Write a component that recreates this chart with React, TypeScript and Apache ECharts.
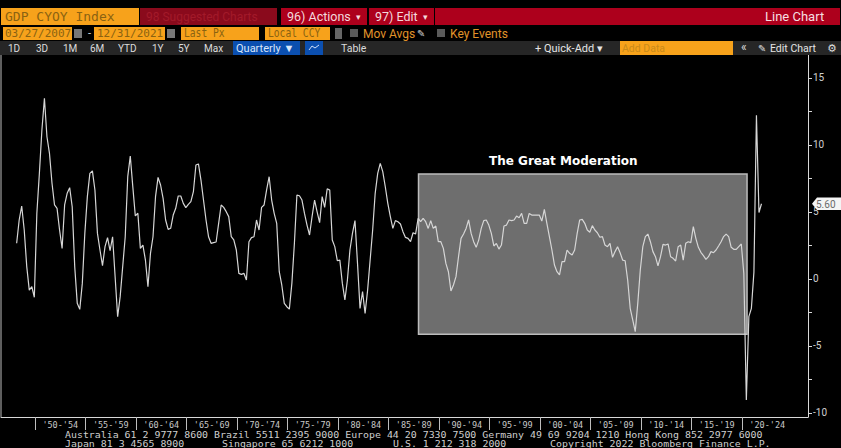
import React, { useEffect, useRef } from "react";
import * as echarts from "echarts";

// Quarterly GDP YoY %, Q1 1948 onward
const gdpYoY: number[] = [
  2.65, 4.39, 5.43, 3.64, 0.91, -0.84, -0.59, -1.38, 4.89, 7.87, 11.1, 13.47, 10.6, 9.36, 7.13, 5.51, 5.26, 3.64, 2.27, 5.51,
  6.38, 6.8, 5.38, 0.91, -1.83, -2.28, -0.34, 3.39, 6.13, 7.87, 8.05, 6.63, 3.39, 2.15, 0.98, 2.4, 3.07, 2.1, 3.14, 0.16,
  -2.83, -1.33, 0.91, 3.14, 7.62, 9.16, 6.88, 4.69, 4.89, 2.27, 2.52, 1.4, -0.59, 1.9, 3.14, 6.13, 7.57, 7.0, 6.0, 4.39,
  3.69, 3.77, 4.76, 5.26, 6.18, 6.18, 5.63, 5.31, 5.56, 5.76, 6.5, 8.49, 8.57, 7.37, 5.88, 4.39, 3.14, 2.65, 2.7, 2.75,
  4.14, 5.51, 5.33, 5.01, 4.64, 3.14, 2.9, 2.15, 0.41, 0.33, 0.41, -0.09, 2.77, 3.07, 3.14, 4.39, 3.64, 5.33, 5.51, 6.63,
  7.62, 5.88, 4.89, 4.14, 0.53, -0.46, -1.83, -2.08, -2.26, -0.34, 2.64, 6.25, 6.2, 5.88, 4.88, 4.01, 3.27, 4.64, 5.88, 5.0,
  4.19, 6.13, 5.33, 6.72, 6.62, 2.89, 2.4, 1.35, 1.4, -0.34, -1.58, -0.09, 2.15, 3.39, 4.34, 1.15, -2.21, -0.96, -2.58, -0.84,
  1.4, 3.64, 6.38, 7.87, 8.61, 8.0, 6.87, 5.63, 4.64, 3.76, 4.34, 4.26, 4.09, 3.52, 3.09, 3.02, 2.77, 3.44, 3.34, 4.51,
  4.26, 4.51, 4.26, 3.76, 4.34, 3.76, 3.94, 2.77, 2.77, 2.27, 1.15, 0.53, -0.91, -0.46, 0.16, 1.65, 3.02, 3.34, 3.76, 4.39,
  3.39, 2.77, 2.35, 2.89, 3.76, 4.34, 4.39, 4.01, 3.39, 2.45, 2.64, 2.22, 2.52, 3.94, 4.01, 4.39, 4.34, 4.39, 4.68, 4.56,
  4.88, 4.14, 4.14, 4.88, 4.76, 4.76, 4.76, 4.76, 4.31, 5.18, 4.14, 3.15, 2.15, 1.03, 0.53, 0.29, 1.28, 1.28, 2.15, 1.9,
  1.78, 2.15, 3.39, 4.39, 4.44, 4.14, 3.64, 3.47, 3.97, 3.64, 3.44, 3.1, 3.15, 2.52, 2.4, 2.65, 1.6, 2.03, 2.4, 1.95,
  1.4, 1.35, -0.09, -2.2, -3.07, -3.94, -1.83, 0.66, 2.4, 3.15, 3.34, 2.77, 2.03, 1.65, 0.96, 1.65, 2.57, 2.52, 2.6, 1.65,
  1.53, 1.33, 2.4, 2.52, 1.4, 2.65, 2.77, 2.7, 3.89, 3.02, 2.35, 1.98, 1.73, 1.45, 1.65, 2.03, 1.95, 2.15, 2.45, 2.77,
  3.15, 3.34, 3.15, 2.35, 2.2, 2.2, 2.4, 2.6, 0.41, -9.04, -2.82, -2.2, 0.5, 12.2, 4.95, 5.6,
];
const firstPointYear = 1948.18;
const periodStarts = [1950, 1955, 1960, 1965, 1970, 1975, 1980, 1985, 1990, 1995, 2000, 2005, 2010, 2015, 2020];
const periodLabels = ["'50-'54", "'55-'59", "'60-'64", "'65-'69", "'70-'74", "'75-'79", "'80-'84", "'85-'89", "'90-'94", "'95-'99", "'00-'04", "'05-'09", "'10-'14", "'15-'19", "'20-'24"];
const yLabelValues = [-10, -5, 0, 5, 10, 15];
const yTickValues = [-10, -7.5, -5, -2.5, 0, 2.5, 5, 7.5, 10, 12.5, 15];
const lastPrice = "5.60";
const moderationTitle = "The Great Moderation";
const moderationBox = { from: 1987.97, to: 2020.5, low: -4.14, high: 7.82 };
const footerRow1 = "Australia 61 2 9777 8600 Brazil 5511 2395 9000 Europe 44 20 7330 7500 Germany 49 69 9204 1210 Hong Kong 852 2977 6000";
const footerRow2 = ["Japan 81 3 4565 8900", "Singapore 65 6212 1000", "U.S. 1 212 318 2000", "Copyright 2022 Bloomberg Finance L.P."];

const MONO = "'DejaVu Sans Mono', monospace";
const UI = "Roboto, 'Liberation Sans', sans-serif";
const ORANGE = "#f7a21b";
const ORANGE_TEXT = "#8a6212";

const box = (x: number, y: number, w: number, h: number, fill: string) => ({
  type: "rect", shape: { x, y, width: w, height: h }, style: { fill }, silent: true, z: 10,
});
const label = (text: string, x: number, y: number, size: number, fill: string, family = UI, extra: any = {}, transform: any = {}) => ({
  type: "text", x, y, silent: true, z: 11, ...transform,
  style: { text, fill, fontSize: size, fontFamily: family, verticalAlign: "middle", align: "left", ...extra },
});

function headerElements(): any[] {
  const els: any[] = [];
  const narrow = { scaleX: 0.84 };
  // row 1
  els.push(box(1, 8, 138, 17, ORANGE), label("GDP CYOY Index", 5, 16.5, 13, ORANGE_TEXT, MONO));
  els.push(box(140, 8, 137, 17, "#8a0a1c"), label("98 Suggested Charts", 146, 16.5, 12, "#a31a2a"));
  els.push(box(281, 8, 86, 17, "#ad001c"), label("96) Actions", 287, 16.5, 12.5, "#f4d9dc"), label("▾", 356, 16.5, 9, "#f4d9dc"));
  els.push(box(369, 8, 65, 17, "#ad001c"), label("97) Edit", 375, 16.5, 12.5, "#f4d9dc"), label("▾", 423, 16.5, 9, "#f4d9dc"));
  els.push(box(435, 8, 405, 17, "#ad001c"), label("Line Chart", 765, 16.5, 13, "#f6dfe0"));
  // row 2
  els.push(box(3, 27, 69, 13, ORANGE), label("03/27/2007", 5, 33.5, 11, ORANGE_TEXT, MONO));
  els.push(box(74, 29, 8, 9, "#777777"), label("-", 88, 33.5, 11, "#dddddd"));
  els.push(box(94, 27, 71, 13, ORANGE), label("12/31/2021", 97, 33.5, 11, ORANGE_TEXT, MONO));
  els.push(box(167, 29, 8, 9, "#777777"));
  els.push(box(181, 27, 78, 13, ORANGE), label("Last Px", 184, 33.5, 11.5, ORANGE_TEXT, MONO, {}, narrow));
  els.push(box(265, 27, 65, 13, ORANGE), label("Local CCY", 268, 33.5, 11.5, ORANGE_TEXT, MONO, {}, narrow));
  els.push(box(335, 28, 7, 11, "#666666"));
  els.push(box(350, 29, 8, 8, "#5a5a5a"), label("Mov Avgs", 363, 33.5, 12, "#e0932a"));
  els.push(label("✎", 417, 33.5, 10, "#cccccc", "'DejaVu Sans'"));
  els.push(box(437, 29, 8, 8, "#5a5a5a"), label("Key Events", 450, 33.5, 12, "#e0932a"));
  // row 3
  els.push(box(0, 41, 841, 14, "#262626"));
  const ranges: [string, number][] = [["1D", 8], ["3D", 36], ["1M", 63], ["6M", 90], ["YTD", 118], ["1Y", 152], ["5Y", 178], ["Max", 204]];
  ranges.forEach(([t, x]) => els.push(label(t, x, 48, 10, "#dcdcdc")));
  els.push(box(233, 41, 67, 14, "#0b4fb0"), label("Quarterly ▼", 236, 48, 11, "#d8e6fa"));
  els.push(box(305, 41, 18, 14, "#0b4fb0"));
  els.push({ type: "polyline", shape: { points: [[309, 50], [312, 46], [315, 48], [319, 45]] }, style: { stroke: "#cfe0fa", fill: "none", lineWidth: 1 }, silent: true, z: 11 });
  els.push(label("Table", 341, 48, 10.5, "#dcdcdc"));
  els.push(label("+ Quick-Add ▾", 535, 48, 11, "#e4e4e4"));
  els.push(box(620, 41, 113, 14, ORANGE), label("Add Data", 622, 48, 10.5, "#c98a1a"));
  els.push(label("«", 741, 47, 12, "#dcdcdc"), label("✎", 758, 48, 10, "#dcdcdc", "'DejaVu Sans'"));
  els.push(label("Edit Chart", 770, 48, 10.5, "#e4e4e4"), label("⚙", 827, 48, 11, "#dcdcdc", "'DejaVu Sans'"));
  return els;
}

function footerElements(): any[] {
  const xs = [65, 222, 393, 550];
  const stretch = { scaleX: 1.24, scaleY: 1.1 };
  const els: any[] = [label(footerRow1, 65, 434.5, 8, "#cfcfcf", MONO, {}, stretch)];
  footerRow2.forEach((t, i) => els.push(label(t, xs[i], 443.5, 8, "#cfcfcf", MONO, {}, stretch)));
  return els;
}

export default function App() {
  const ref = useRef<HTMLDivElement>(null);
  useEffect(() => {
    document.body.style.margin = "0";
    document.body.style.background = "#000";
    const chart = echarts.init(ref.current!, undefined, { renderer: "svg" });
    const points = gdpYoY.map((v, i) => [firstPointYear + i / 4, v]);
    chart.setOption({
      animation: false,
      backgroundColor: "#000000",
      grid: { left: 1, right: 33, top: 55, bottom: 31, containLabel: false },
      xAxis: {
        type: "value", min: 1946.63, max: 2026.535, splitLine: { show: false },
        axisLine: { show: true, onZero: false, lineStyle: { color: "#d8d8d8", width: 1 } },
        axisTick: { show: true, length: 13, customValues: periodStarts, lineStyle: { color: "#bdbdbd", width: 1 } },
        axisLabel: {
          show: true, margin: 3, color: "#c8c8c8", fontFamily: MONO, fontSize: 8.5,
          customValues: periodStarts.map((y) => y + 2.5),
          formatter: (v: number) => periodLabels[periodStarts.indexOf(v - 2.5)] ?? "",
        },
      },
      yAxis: {
        type: "value", position: "right", min: -10.31, max: 16.7, splitLine: { show: false },
        axisLine: { show: true, onZero: false, lineStyle: { color: "#d8d8d8", width: 1 } },
        axisTick: { show: true, length: 4, customValues: yTickValues, lineStyle: { color: "#d8d8d8", width: 1 } },
        axisLabel: {
          show: true, margin: 5, color: "#d0d0d0", fontFamily: UI, fontSize: 10,
          customValues: yLabelValues,
          formatter: (v: number) => String(v),
        },
      },
      series: [
        {
          type: "line", data: points, symbol: "none", smooth: false, z: 5,
          lineStyle: { color: "#d6d6d6", width: 1.2 },
          markArea: {
            silent: true,
            itemStyle: { color: "#6e6e6e", borderColor: "#bcbcbc", borderWidth: 1.5, opacity: 1 },
            data: [[{ coord: [moderationBox.from, moderationBox.high] }, { coord: [moderationBox.to, moderationBox.low] }]],
          },
        },
      ],
      graphic: {
        elements: [
          ...headerElements(),
          ...footerElements(),
          { type: "line", shape: { x1: 1, y1: 55, x2: 1, y2: 417 }, style: { stroke: "#bdbdbd", lineWidth: 1 }, silent: true, z: 10 },
          label(moderationTitle, 489, 161, 12, "#ffffff", "'DejaVu Sans'", { fontWeight: "bold" }),
          { type: "polygon", shape: { points: [[812, 203.8], [817, 197.5], [841, 197.5], [841, 210], [817, 210]] }, style: { fill: "#f4f4f4" }, silent: true, z: 12 },
          { ...label(lastPrice, 816, 204, 10, "#6a6a6a"), z: 13 },
        ],
      },
    });
    return () => chart.dispose();
  }, []);
  return <div ref={ref} style={{ width: 841, height: 448 }} />;
}
